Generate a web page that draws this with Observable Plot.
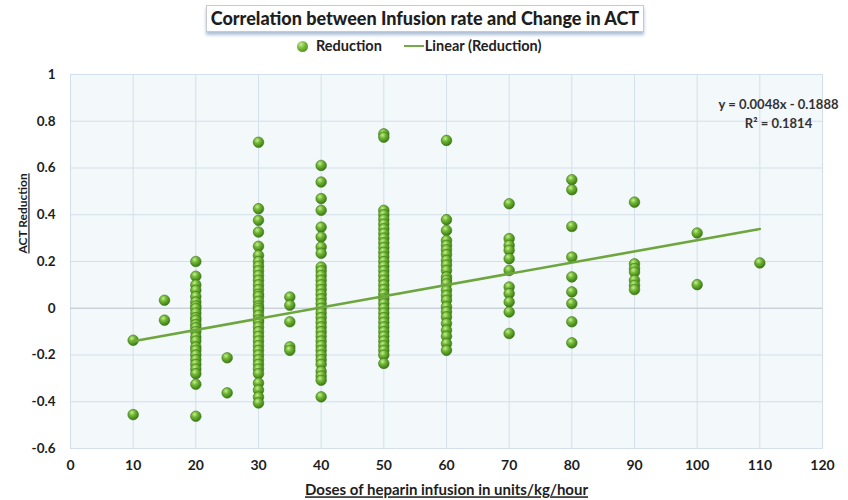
<!DOCTYPE html>
<html>
<head>
<meta charset="utf-8">
<script src="https://cdn.jsdelivr.net/npm/d3@7"></script>
<script src="https://cdn.jsdelivr.net/npm/@observablehq/plot@0.6"></script>
<style>
  html, body { margin: 0; padding: 0; background: #fff; }
  body { width: 848px; height: 500px; overflow: hidden; font-family: Lato, "Open Sans", sans-serif; }
  #head { position: relative; height: 60px; }
  #title {
    position: absolute; left: 206px; top: 5px; width: 436px; height: 25px;
    border: 1px solid #c9c9c9; background: #fff;
    box-shadow: 0 3px 3px rgba(120,150,190,0.6);
    font-weight: 900; font-size: 18px; color: #1e1e1e;
    text-align: center; line-height: 25px; white-space: nowrap;
  }
  #legend { position: absolute; left: 297px; top: 37px; font-weight: 700; font-size: 14.5px; color: #222; white-space: nowrap; }
  #legend .ball { display: inline-block; width: 11px; height: 11px; border-radius: 50%;
    background: radial-gradient(circle at 35% 30%, #c6ec8e 0%, #6fb533 45%, #3f7f16 100%);
    vertical-align: -1px; margin-right: 8px; }
  #legend .ln { display: inline-block; width: 20px; height: 2px; background: #72ab43; vertical-align: 4px; margin-left: 22px; margin-right: 1px; }
  .ulabel { text-decoration: underline; }
</style>
</head>
<body>
<div id="head">
  <div id="title">Correlation between Infusion rate and Change in ACT</div>
  <div id="legend"><span class="ball"></span>Reduction<span class="ln"></span>Linear (Reduction)</div>
</div>
<div id="chart"></div>
<script>
// ---- data ----
const dose10 = [-0.137, -0.455];
const dose15 = [0.034, -0.051];
const dose20 = [0.20, 0.137, 0.10, 0.077, 0.05, 0.027, 0.01, -0.001, -0.02, -0.04, -0.051, -0.07, -0.083, -0.10, -0.123, -0.14, -0.166, -0.18, -0.20, -0.22, -0.24, -0.26, -0.28, -0.325, -0.462];
const dose25 = [-0.212, -0.362];
const dose30 = [0.71, 0.426, 0.376, 0.326, 0.265, 0.226, 0.20, 0.18, 0.16, 0.14, 0.12, 0.10, 0.08, 0.06, 0.05, 0.03, 0.01, 0.0, -0.01, -0.03, -0.05, -0.06, -0.08, -0.10, -0.12, -0.14, -0.16, -0.18, -0.20, -0.22, -0.24, -0.26, -0.28, -0.32, -0.35, -0.38, -0.405];
const dose35 = [0.048, 0.013, -0.058, -0.165, -0.18];
const dose40 = [0.611, 0.54, 0.469, 0.419, 0.347, 0.305, 0.262, 0.235, 0.176, 0.16, 0.14, 0.12, 0.10, 0.08, 0.06, 0.04, 0.02, 0.0, -0.02, -0.04, -0.06, -0.08, -0.10, -0.12, -0.14, -0.16, -0.18, -0.20, -0.22, -0.24, -0.27, -0.29, -0.308, -0.379];
const dose50 = [0.746, 0.732, 0.419, 0.40, 0.38, 0.36, 0.34, 0.32, 0.30, 0.28, 0.26, 0.24, 0.22, 0.20, 0.18, 0.16, 0.14, 0.12, 0.10, 0.08, 0.06, 0.04, 0.02, 0.0, -0.02, -0.04, -0.06, -0.08, -0.10, -0.12, -0.14, -0.16, -0.18, -0.20, -0.236];
const dose60 = [0.718, 0.379, 0.333, 0.29, 0.269, 0.25, 0.23, 0.205, 0.185, 0.162, 0.134, 0.12, 0.105, 0.077, 0.055, 0.034, 0.006, -0.015, -0.037, -0.065, -0.094, -0.12, -0.151, -0.18];
const dose70 = [0.447, 0.298, 0.269, 0.248, 0.212, 0.162, 0.091, 0.063, 0.027, -0.016, -0.108];
const dose80 = [0.55, 0.507, 0.35, 0.219, 0.134, 0.07, 0.02, -0.058, -0.148];
const dose90 = [0.454, 0.19, 0.17, 0.155, 0.12, 0.098, 0.08];
const dose100 = [0.322, 0.101];
const dose110 = [0.194];

const doses = [10, 15, 20, 25, 30, 35, 40, 50, 60, 70, 80, 90, 100, 110];
const reductions = [dose10, dose15, dose20, dose25, dose30, dose35, dose40, dose50, dose60, dose70, dose80, dose90, dose100, dose110];

// trendline as printed on the chart
const slope = 0.0048;
const intercept = -0.1888;
const trendRange = [10, 110];
const equationText = "y = 0.0048x - 0.1888\nR² = 0.1814";

const xTicks = [0, 10, 20, 30, 40, 50, 60, 70, 80, 90, 100, 110, 120];
const yTicks = [-0.6, -0.4, -0.2, 0, 0.2, 0.4, 0.6, 0.8, 1];
const xTitle = "Doses of heparin infusion in units/kg/hour";
const yTitle = "ACT Reduction";

// ---- build tables ----
const points = doses.flatMap((d, i) => reductions[i].map(v => ({dose: d, reduction: v})));
const trend = trendRange.map(x => ({dose: x, reduction: slope * x + intercept}));

const fmt = d => String(+d.toFixed(1));

const chart = Plot.plot({
  width: 848,
  height: 440,
  marginTop: 14,
  marginBottom: 52,
  marginLeft: 70,
  marginRight: 26,
  style: {fontFamily: "Lato, 'Open Sans', sans-serif", fontWeight: 700, fontSize: "13px", color: "#1e1e1e", background: "transparent"},
  x: {domain: [0, 120], ticks: xTicks, tickFormat: fmt},
  y: {domain: [-0.6, 1], ticks: yTicks, tickFormat: fmt},
  marks: [
    Plot.frame({fill: "#f3f8fb", stroke: "#d9e3ec"}),
    Plot.gridX(xTicks, {stroke: "#d3dfea", strokeOpacity: 1}),
    Plot.gridY(yTicks, {stroke: "#d3dfea", strokeOpacity: 1}),
    Plot.ruleY([0], {stroke: "#c3c9cf"}),
    Plot.axisX(xTicks, {tickSize: 0, tickPadding: 12, label: null, tickFormat: fmt, fontSize: 14, fontWeight: 700}),
    Plot.axisY(yTicks, {tickSize: 0, tickPadding: 15, label: null, tickFormat: fmt, fontSize: 13.5, fontWeight: 700}),
    Plot.dot(points, {x: "dose", y: "reduction", r: 5.3, fill: "url(#ball)", stroke: "#3b7714", strokeWidth: 0.6}),
    Plot.line(trend, {x: "dose", y: "reduction", stroke: "#6ea63e", strokeWidth: 2.6}),
    Plot.text([equationText], {text: d => d, frameAnchor: "top-right", textAnchor: "middle", lineAnchor: "top", dx: -44, dy: 22, lineHeight: 1.4, fontSize: 13, fontWeight: 700, fill: "#333"}),
    Plot.text([xTitle], {text: d => d, frameAnchor: "bottom", lineAnchor: "middle", dy: 42, fontSize: 15, fontWeight: 700, fill: "#1e1e1e", className: "ulabel"}),
    Plot.text([yTitle], {text: d => d, frameAnchor: "left", rotate: -90, lineAnchor: "middle", dx: -47, dy: -8, fontSize: 12, fontWeight: 700, fill: "#1e1e1e", className: "ulabel"})
  ]
});

d3.select(chart).insert("defs", ":first-child").html(
  '<radialGradient id="ball" cx="0.38" cy="0.32" r="0.68">' +
  '<stop offset="0%" stop-color="#c8ee90"/>' +
  '<stop offset="40%" stop-color="#72b836"/>' +
  '<stop offset="100%" stop-color="#3c7a14"/>' +
  '</radialGradient>'
);

document.getElementById("chart").appendChild(chart);
</script>
</body>
</html>
